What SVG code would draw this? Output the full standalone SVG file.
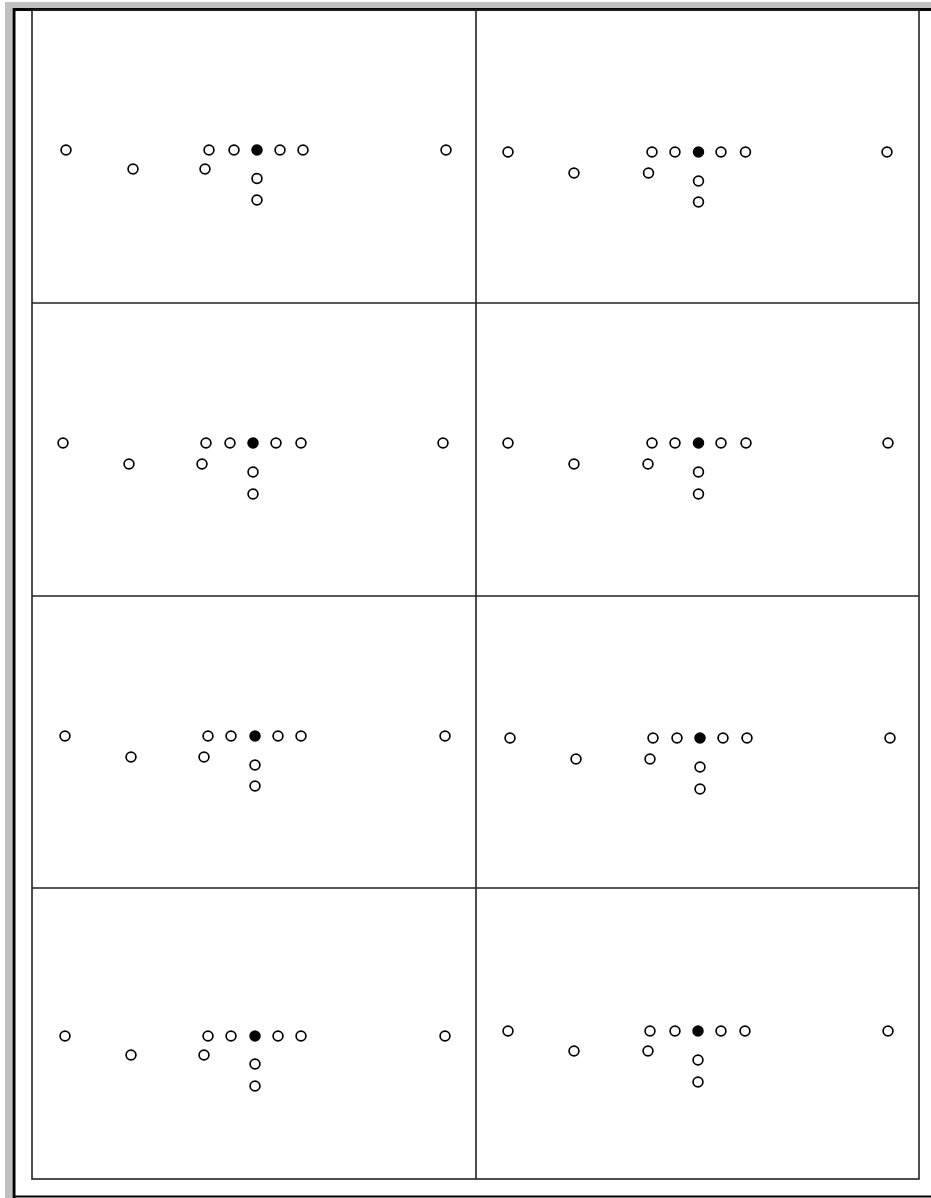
<svg xmlns="http://www.w3.org/2000/svg" width="931" height="1198" viewBox="0 0 931 1198">
<style>
.o{fill:#fff;stroke:#000;stroke-width:1.7}
.f{fill:#000;stroke:#000;stroke-width:1.7}
.g{stroke:#222;stroke-width:1.6;fill:none}
</style>
<rect x="0" y="0" width="931" height="1198" fill="#fff"/>
<rect x="5" y="2" width="926" height="6" fill="#c0c0c0"/>
<rect x="5" y="2" width="7" height="1196" fill="#c0c0c0"/>
<path d="M14 1198 V9.5 H931" stroke="#000" stroke-width="3" fill="none"/>
<line x1="14" y1="1196.5" x2="931" y2="1196.5" stroke="#000" stroke-width="2"/>
<g id="grid">
<rect class="g" x="32" y="10" width="887" height="1169"/>
<line class="g" x1="476" y1="10" x2="476" y2="1179"/>
<line class="g" x1="32" y1="303" x2="919" y2="303"/>
<line class="g" x1="32" y1="596" x2="919" y2="596"/>
<line class="g" x1="32" y1="888" x2="919" y2="888"/>
</g>
<g id="panel1">
<circle class="o" cx="66" cy="150" r="4.9"/><circle class="o" cx="209" cy="150" r="4.9"/><circle class="o" cx="234" cy="150" r="4.9"/><circle class="f" cx="257" cy="150" r="4.9"/><circle class="o" cx="280" cy="150" r="4.9"/><circle class="o" cx="303" cy="150" r="4.9"/><circle class="o" cx="446" cy="150" r="4.9"/>
<circle class="o" cx="133" cy="169" r="4.9"/><circle class="o" cx="205" cy="169" r="4.9"/><circle class="o" cx="257" cy="178.5" r="4.9"/><circle class="o" cx="257" cy="200" r="4.9"/>
</g>
<g id="panel2">
<circle class="o" cx="508" cy="152" r="4.9"/><circle class="o" cx="652" cy="152" r="4.9"/><circle class="o" cx="675" cy="152" r="4.9"/><circle class="f" cx="698.5" cy="152" r="4.9"/><circle class="o" cx="721" cy="152" r="4.9"/><circle class="o" cx="745.5" cy="152" r="4.9"/><circle class="o" cx="887" cy="152" r="4.9"/>
<circle class="o" cx="574" cy="173" r="4.9"/><circle class="o" cx="648.5" cy="173" r="4.9"/><circle class="o" cx="698.5" cy="181" r="4.9"/><circle class="o" cx="698.5" cy="202" r="4.9"/>
</g>
<g id="panel3">
<circle class="o" cx="63" cy="443" r="4.9"/><circle class="o" cx="206" cy="443" r="4.9"/><circle class="o" cx="230" cy="443" r="4.9"/><circle class="f" cx="253" cy="443" r="4.9"/><circle class="o" cx="276" cy="443" r="4.9"/><circle class="o" cx="301" cy="443" r="4.9"/><circle class="o" cx="443" cy="443" r="4.9"/>
<circle class="o" cx="129" cy="464" r="4.9"/><circle class="o" cx="202" cy="464" r="4.9"/><circle class="o" cx="253" cy="472" r="4.9"/><circle class="o" cx="253" cy="494" r="4.9"/>
</g>
<g id="panel4">
<circle class="o" cx="508" cy="443" r="4.9"/><circle class="o" cx="652" cy="443" r="4.9"/><circle class="o" cx="675" cy="443" r="4.9"/><circle class="f" cx="698.5" cy="443" r="4.9"/><circle class="o" cx="721" cy="443" r="4.9"/><circle class="o" cx="746" cy="443" r="4.9"/><circle class="o" cx="888" cy="443" r="4.9"/>
<circle class="o" cx="574" cy="464" r="4.9"/><circle class="o" cx="648" cy="464" r="4.9"/><circle class="o" cx="698.5" cy="472" r="4.9"/><circle class="o" cx="698.5" cy="494" r="4.9"/>
</g>
<g id="panel5">
<circle class="o" cx="65" cy="736" r="4.9"/><circle class="o" cx="208" cy="736" r="4.9"/><circle class="o" cx="231" cy="736" r="4.9"/><circle class="f" cx="255" cy="736" r="4.9"/><circle class="o" cx="278" cy="736" r="4.9"/><circle class="o" cx="301" cy="736" r="4.9"/><circle class="o" cx="445" cy="736" r="4.9"/>
<circle class="o" cx="131" cy="757" r="4.9"/><circle class="o" cx="204" cy="757" r="4.9"/><circle class="o" cx="255" cy="765" r="4.9"/><circle class="o" cx="255" cy="786" r="4.9"/>
</g>
<g id="panel6">
<circle class="o" cx="510" cy="738" r="4.9"/><circle class="o" cx="653" cy="738" r="4.9"/><circle class="o" cx="677" cy="738" r="4.9"/><circle class="f" cx="700" cy="738" r="4.9"/><circle class="o" cx="723" cy="738" r="4.9"/><circle class="o" cx="747" cy="738" r="4.9"/><circle class="o" cx="890" cy="738" r="4.9"/>
<circle class="o" cx="576" cy="759" r="4.9"/><circle class="o" cx="650" cy="759" r="4.9"/><circle class="o" cx="700" cy="767" r="4.9"/><circle class="o" cx="700" cy="789" r="4.9"/>
</g>
<g id="panel7">
<circle class="o" cx="65" cy="1036" r="4.9"/><circle class="o" cx="208" cy="1036" r="4.9"/><circle class="o" cx="231" cy="1036" r="4.9"/><circle class="f" cx="255" cy="1036" r="4.9"/><circle class="o" cx="278" cy="1036" r="4.9"/><circle class="o" cx="301" cy="1036" r="4.9"/><circle class="o" cx="445" cy="1036" r="4.9"/>
<circle class="o" cx="131" cy="1055" r="4.9"/><circle class="o" cx="204" cy="1055" r="4.9"/><circle class="o" cx="255" cy="1064" r="4.9"/><circle class="o" cx="255" cy="1086" r="4.9"/>
</g>
<g id="panel8">
<circle class="o" cx="508" cy="1031" r="4.9"/><circle class="o" cx="650" cy="1031" r="4.9"/><circle class="o" cx="675" cy="1031" r="4.9"/><circle class="f" cx="698" cy="1031" r="4.9"/><circle class="o" cx="721" cy="1031" r="4.9"/><circle class="o" cx="745" cy="1031" r="4.9"/><circle class="o" cx="888" cy="1031" r="4.9"/>
<circle class="o" cx="574" cy="1051" r="4.9"/><circle class="o" cx="648" cy="1051" r="4.9"/><circle class="o" cx="698" cy="1060" r="4.9"/><circle class="o" cx="698" cy="1082" r="4.9"/>
</g>
</svg>
